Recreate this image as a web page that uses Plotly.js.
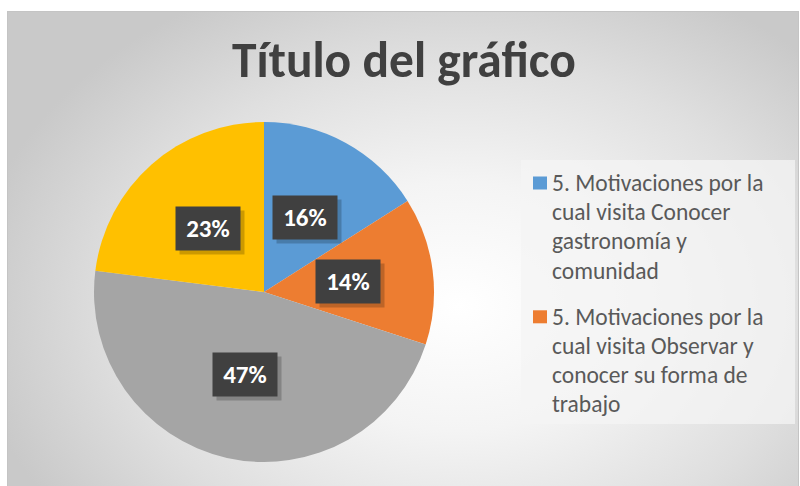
<!DOCTYPE html>
<html>
<head>
<meta charset="utf-8">
<script src="https://cdn.plot.ly/plotly-3.0.1.min.js"></script>
<style>
  html, body { margin: 0; padding: 0; background: #ffffff; }
  #frame {
    position: absolute; left: 7px; top: 11px; width: 790px; height: 474px;
    border: 1px solid #c4c4c4;
    background: radial-gradient(ellipse 62% 75% at 57% 62%, #ffffff 0%, #f4f4f4 35%, #dfdfdf 70%, #c9c9c9 100%);
  }
  #chart { position: absolute; left: 0; top: 0; width: 800px; height: 486px; }
</style>
</head>
<body>
<div id="frame"></div>
<div id="chart"></div>
<script>
// ---- data ----
const categories = [
  "5. Motivaciones por la cual visita Conocer gastronomía y comunidad",
  "5. Motivaciones por la cual visita Observar y conocer su forma de trabajo",
  "5. Motivaciones por la cual visita Otra motivación",
  "5. Motivaciones por la cual visita Descansar"
];
const values = [16, 14, 47, 23];
const colors = ["#5B9BD5", "#ED7D31", "#A5A5A5", "#FFC000"];
const titleText = "Título del gráfico";
const visibleLegendCount = 2;

// ---- layout constants (pixels) ----
const W = 800, H = 486;
const cx = 264, cy = 292, R = 170;
const FONT = "Carlito, Calibri, 'Open Sans', sans-serif";

const px2x = p => p / W;
const py2y = p => 1 - p / H;

const total = values.reduce((a, b) => a + b, 0);

const trace = {
  type: "pie",
  values: values,
  labels: categories,
  marker: { colors: colors, line: { width: 0 } },
  sort: false,
  direction: "clockwise",
  rotation: 0,
  textinfo: "none",
  hoverinfo: "label+percent",
  showlegend: false,
  domain: { x: [px2x(cx - R), px2x(cx + R)], y: [py2y(cy + R), py2y(cy - R)] }
};

const annotations = [];
// data labels at half radius, derived from values
let cum = 0;
values.forEach((v, i) => {
  const mid = 2 * Math.PI * (cum + v / 2) / total;
  cum += v;
  const lx = cx + 0.5 * R * Math.sin(mid);
  const ly = cy - 0.5 * R * Math.cos(mid);
  const txt = Math.round(v / total * 100) + "%";
  annotations.push({
    xref: "paper", yref: "paper", x: px2x(lx), y: py2y(ly),
    xanchor: "center", yanchor: "middle",
    xshift: 4, yshift: -4, text: " ", showarrow: false,
    width: 62, height: 41, bgcolor: "rgba(0,0,0,0.2)",
    font: { size: 10 }
  });
  annotations.push({
    xref: "paper", yref: "paper", x: px2x(lx), y: py2y(ly),
    xanchor: "center", yanchor: "middle",
    text: txt, showarrow: false,
    width: 62, height: 41, bgcolor: "#404040",
    font: { family: FONT, size: 25, color: "#ffffff", weight: 700 }
  });
});

// legend (manual wrap like the original)
function wrap(s, maxChars) {
  const words = s.split(" ");
  const lines = [];
  let cur = "";
  words.forEach(w => {
    const t = cur ? cur + " " + w : w;
    if (t.length > maxChars && cur) { lines.push(cur); cur = w; }
    else cur = t;
  });
  if (cur) lines.push(cur);
  return lines;
}
const shapes = [];
shapes.push({
  type: "rect", xref: "paper", yref: "paper",
  x0: px2x(521), x1: px2x(795), y0: py2y(424), y1: py2y(160),
  fillcolor: "rgba(244,244,244,0.75)", line: { width: 0 }, layer: "below"
});
const legTop = 183, lineH = 29.2, entryGap = 17;
let yCursor = legTop;
for (let i = 0; i < visibleLegendCount; i++) {
  const lines = wrap(categories[i], 22);
  shapes.push({
    type: "rect", xref: "paper", yref: "paper",
    x0: px2x(533), x1: px2x(547), y0: py2y(yCursor + 6.5), y1: py2y(yCursor - 6.5),
    fillcolor: colors[i], line: { width: 0 }
  });
  lines.forEach((ln, j) => {
    annotations.push({
      xref: "paper", yref: "paper", x: px2x(550), y: py2y(yCursor + j * lineH),
      xanchor: "left", yanchor: "middle", text: ln, showarrow: false,
      font: { family: FONT, size: 23.5, color: "#595959" }
    });
  });
  yCursor += lines.length * lineH + entryGap;
}

const layout = {
  width: W, height: H,
  margin: { l: 0, r: 0, t: 0, b: 0 },
  paper_bgcolor: "rgba(0,0,0,0)",
  plot_bgcolor: "rgba(0,0,0,0)",
  title: {
    text: titleText,
    font: { family: FONT, size: 49.5, color: "#404040", weight: 700 },
    x: px2x(404), xanchor: "center", y: py2y(60), yanchor: "middle"
  },
  showlegend: false,
  annotations: annotations,
  shapes: shapes
};

Plotly.newPlot("chart", [trace], layout, { displayModeBar: false, staticPlot: true });
</script>
</body>
</html>
